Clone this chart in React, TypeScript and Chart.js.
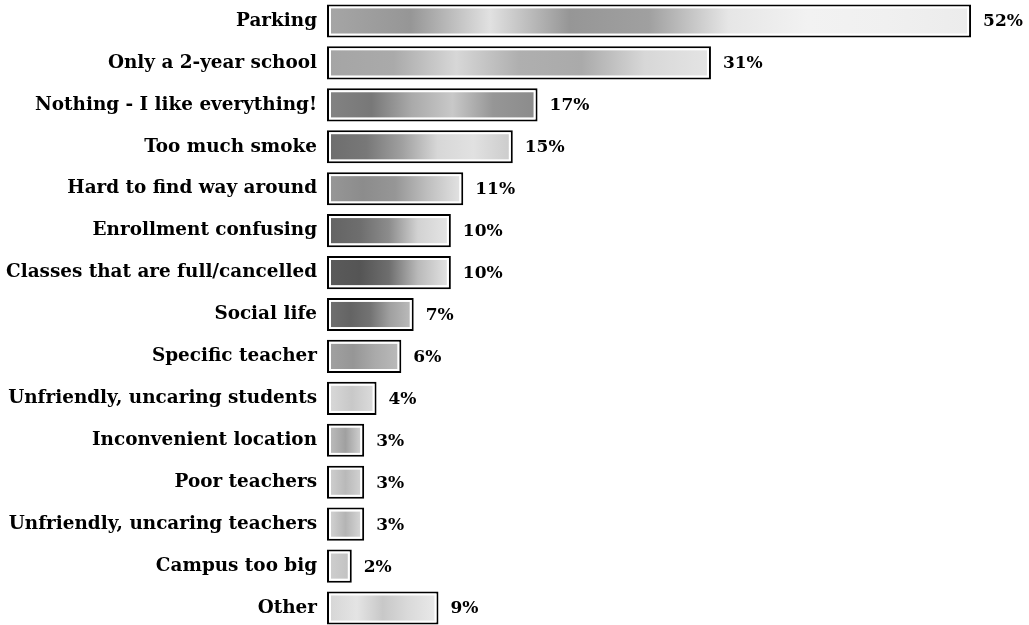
import React, { useEffect, useRef } from "react";
import { Chart, registerables } from "chart.js";

Chart.register(...registerables);

const categories = [
  "Parking",
  "Only a 2-year school",
  "Nothing - I like everything!",
  "Too much smoke",
  "Hard to find way around",
  "Enrollment confusing",
  "Classes that are full/cancelled",
  "Social life",
  "Specific teacher",
  "Unfriendly, uncaring students",
  "Inconvenient location",
  "Poor teachers",
  "Unfriendly, uncaring teachers",
  "Campus too big",
  "Other",
];

const percentages = [52, 31, 17, 15, 11, 10, 10, 7, 6, 4, 3, 3, 3, 2, 9];

const valueLabels = ["52%", "31%", "17%", "15%", "11%", "10%", "10%", "7%", "6%", "4%", "3%", "3%", "3%", "2%", "9%"];

// texture shading per bar: grey levels spread evenly from bar start to bar end
const shadeStops = [
  [165, 150, 225, 150, 160, 230, 242, 240, 236],
  [165, 170, 215, 175, 170, 215, 228],
  [130, 120, 170, 200, 150, 140],
  [110, 120, 160, 215, 225, 205],
  [150, 140, 150, 190, 225],
  [100, 110, 140, 210, 228],
  [90, 85, 110, 185, 225],
  [110, 100, 115, 160, 185],
  [160, 150, 170, 185],
  [215, 200, 218],
  [185, 160, 205],
  [205, 185, 208],
  [208, 180, 212],
  [205, 195],
  [215, 228, 200, 218, 232],
];

const FONT_FAMILY = "'DejaVu Serif', serif";

const barTexturePlugin = {
  id: "barTexture",
  afterDatasetsDraw(chart: any) {
    const ctx = chart.ctx;
    const meta = chart.getDatasetMeta(0);
    ctx.save();
    meta.data.forEach((bar: any, i: number) => {
      const p = bar.getProps(["x", "y", "base", "height"], true);
      const left = Math.min(p.base, p.x) + 4;
      const right = Math.max(p.base, p.x) - 4;
      const top = p.y - p.height / 2 + 4;
      const bottom = p.y + p.height / 2 - 4;
      if (right <= left) return;
      const g = ctx.createLinearGradient(left, 0, right, 0);
      const stops = shadeStops[i];
      stops.forEach((v: number, k: number) => {
        const pos = stops.length === 1 ? 0 : k / (stops.length - 1);
        g.addColorStop(pos, `rgb(${v},${v},${v})`);
      });
      ctx.fillStyle = g;
      ctx.fillRect(left, top, right - left, bottom - top);
    });
    ctx.font = `bold 17px ${FONT_FAMILY}`;
    ctx.fillStyle = "#000";
    ctx.textAlign = "left";
    ctx.textBaseline = "middle";
    meta.data.forEach((bar: any, i: number) => {
      ctx.fillText(valueLabels[i], bar.x + 12, bar.y + 1);
    });
    ctx.restore();
  },
};

export default function App() {
  const canvasRef = useRef<HTMLCanvasElement | null>(null);

  useEffect(() => {
    const canvas = canvasRef.current;
    if (!canvas) return;
    const chart = new Chart(canvas, {
      type: "bar",
      data: {
        labels: categories,
        datasets: [
          {
            data: percentages,
            backgroundColor: "#ffffff",
            borderColor: "#000000",
            borderWidth: 2,
            borderSkipped: false,
            barPercentage: 0.79,
            categoryPercentage: 1,
          },
        ],
      },
      options: {
        indexAxis: "y",
        responsive: false,
        animation: false,
        devicePixelRatio: 1,
        layout: { padding: { left: 0, right: 8.4, top: 0, bottom: 0 } },
        plugins: {
          legend: { display: false },
          tooltip: { enabled: false },
        },
        scales: {
          x: {
            display: false,
            min: 0,
            max: 56,
          },
          y: {
            type: "category",
            grid: { display: false, drawTicks: false },
            border: { display: false },
            ticks: {
              color: "#000",
              padding: 10,
              font: { family: FONT_FAMILY, size: 18.4, weight: "bold" },
            },
            afterFit: (scale: any) => {
              scale.width = 327;
              scale.paddingTop = 0;
              scale.paddingBottom = 0;
            },
          },
        },
      },
      plugins: [barTexturePlugin],
    });
    return () => chart.destroy();
  }, []);

  return (
    <div style={{ position: "fixed", left: 0, top: 0, width: 1029, height: 629, background: "#fff" }}>
      <canvas ref={canvasRef} width={1029} height={629} style={{ display: "block" }} />
    </div>
  );
}
